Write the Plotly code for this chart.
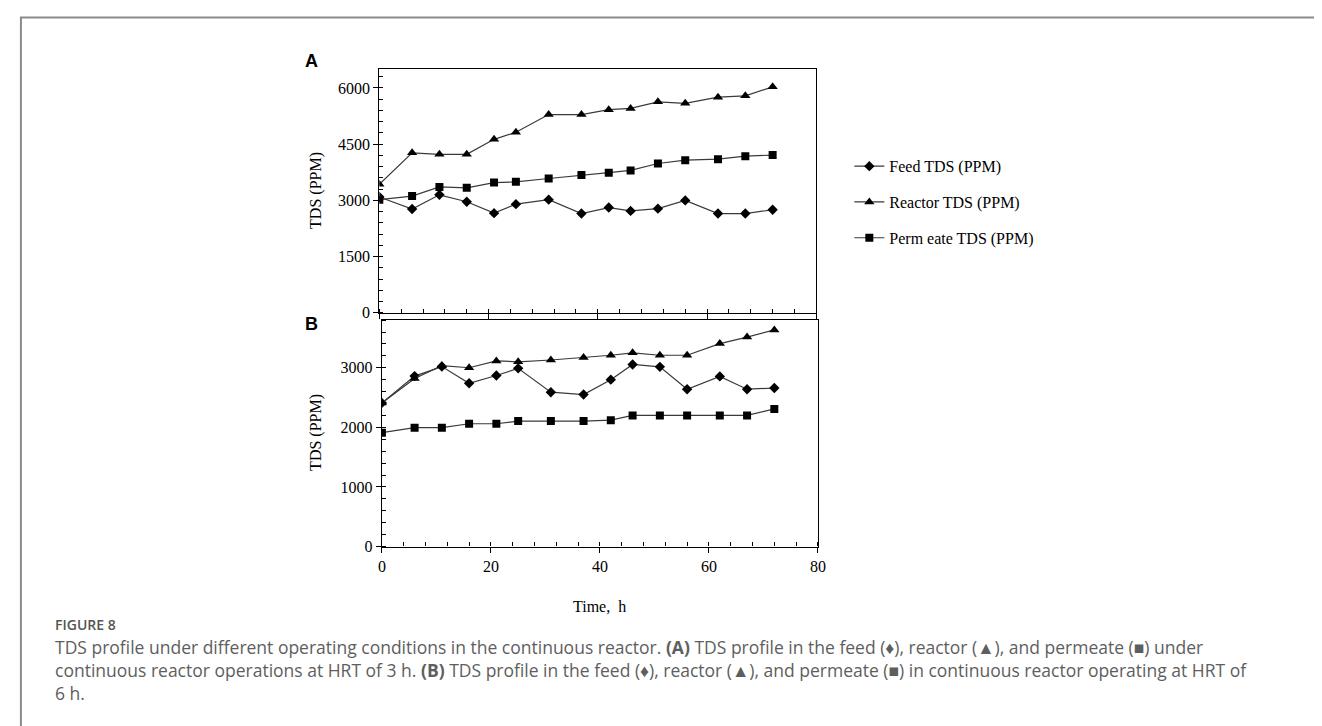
import plotly.graph_objects as go

W, H = 1322, 726

times = [0, 6, 11, 16, 21, 25, 31, 37, 42, 46, 51, 56, 62, 67, 72]

a_feed = [3090, 2770, 3150, 2965, 2660, 2900, 3020, 2650, 2810, 2720, 2780, 3000, 2650, 2650, 2750]
a_reactor = [3430, 4270, 4230, 4230, 4630, 4820, 5290, 5290, 5420, 5455, 5630, 5590, 5755, 5790, 6030]
a_permeate = [3020, 3115, 3360, 3335, 3475, 3495, 3585, 3680, 3740, 3800, 3985, 4075, 4100, 4180, 4210]

b_feed = [2410, 2860, 3020, 2740, 2870, 2990, 2590, 2550, 2800, 3055, 3015, 2640, 2855, 2640, 2660]
b_reactor = [2410, 2820, 3035, 3000, 3115, 3100, 3130, 3170, 3210, 3250, 3210, 3210, 3405, 3515, 3635]
b_permeate = [1910, 1995, 1995, 2060, 2060, 2105, 2105, 2105, 2120, 2200, 2200, 2200, 2200, 2200, 2310]

series_names = ["Feed TDS (PPM)", "Reactor TDS (PPM)", "Perm eate TDS (PPM)"]
symbols = ["diamond", "triangle-up", "square"]
sizes = [8, 9, 8]

SERIF = "Liberation Serif"


def px(x):
    return x / W


def py(y):
    return 1 - y / H


fig = go.Figure()

for i, (name, ys) in enumerate(zip(series_names, [a_feed, a_reactor, a_permeate])):
    fig.add_trace(go.Scatter(
        x=times, y=ys, name=name, mode="lines+markers",
        line=dict(color="#3a3a3a", width=1.2),
        marker=dict(symbol=symbols[i], size=sizes[i], color="black"),
        xaxis="x", yaxis="y", legendgroup=f"g{i}", showlegend=True,
    ))
for i, (name, ys) in enumerate(zip(series_names, [b_feed, b_reactor, b_permeate])):
    fig.add_trace(go.Scatter(
        x=times, y=ys, name=name, mode="lines+markers",
        line=dict(color="#3a3a3a", width=1.2),
        marker=dict(symbol=symbols[i], size=sizes[i], color="black"),
        xaxis="x2", yaxis="y2", legendgroup=f"g{i}", showlegend=False,
    ))

tickfont = dict(family=SERIF, size=16, color="black")
common_axis = dict(showline=True, linecolor="black", linewidth=1.3, mirror=True,
                   showgrid=False, zeroline=False, ticks="outside", ticklen=5,
                   tickcolor="black", tickwidth=1.2, tickfont=tickfont)

fig.update_layout(
    width=W, height=H,
    margin=dict(l=0, r=0, t=0, b=0),
    paper_bgcolor="white", plot_bgcolor="white",
    xaxis=dict(domain=[px(370.7), px(811.7)], anchor="y", range=[0, 80], dtick=20, tick0=0,
               showticklabels=False,
               minor=dict(dtick=4, ticks="inside", ticklen=4, tickcolor="black"),
               **common_axis),
    yaxis=dict(domain=[py(308.7), py(62)], anchor="x", range=[0, 6500], dtick=1500, tick0=0,
               minor=dict(dtick=300, ticks="inside", ticklen=4, tickcolor="black"),
               **common_axis),
    xaxis2=dict(domain=[px(373.3), px(813.3)], anchor="y2", range=[0, 80], dtick=20, tick0=0,
                minor=dict(dtick=4, ticks="inside", ticklen=4, tickcolor="black"),
                **common_axis),
    yaxis2=dict(domain=[py(545.3), py(316)], anchor="x2", range=[0, 3800], dtick=1000, tick0=0,
                minor=dict(dtick=200, ticks="inside", ticklen=4, tickcolor="black"),
                **common_axis),
    legend=dict(x=px(845), xanchor="left", y=py(143), yanchor="top",
                font=dict(family=SERIF, size=16, color="black"),
                bgcolor="rgba(0,0,0,0)", tracegroupgap=12, itemwidth=30),
    showlegend=True,
)

annotations = []
# panel labels
annotations.append(dict(text="<b>A</b>", x=px(302), y=py(54), xref="paper", yref="paper",
                        showarrow=False, xanchor="center", yanchor="middle",
                        font=dict(family="Liberation Sans", size=18, color="black")))
annotations.append(dict(text="<b>B</b>", x=px(302), y=py(320), xref="paper", yref="paper",
                        showarrow=False, xanchor="center", yanchor="middle",
                        font=dict(family="Liberation Sans", size=18, color="black")))
# axis titles
for yc in [185, 430]:
    annotations.append(dict(text="TDS (PPM)", x=px(306), y=py(yc), xref="paper", yref="paper",
                            showarrow=False, xanchor="center", yanchor="middle", textangle=-90,
                            font=dict(family=SERIF, size=16, color="black")))
annotations.append(dict(text="Time,  h", x=px(593), y=py(606), xref="paper", yref="paper",
                        showarrow=False, xanchor="center", yanchor="middle",
                        font=dict(family=SERIF, size=16, color="black")))
# caption
annotations.append(dict(text="FIGURE 8", x=px(41), y=py(624), xref="paper", yref="paper",
                        showarrow=False, xanchor="left", yanchor="middle",
                        font=dict(family="Open Sans", size=14, color="#555555", weight=600)))
cap_lines = [
    "TDS profile under different operating conditions in the continuous reactor. <b>(A)</b> TDS profile in the feed (♦), reactor (▲), and permeate (■) under",
    "continuous reactor operations at HRT of 3 h. <b>(B)</b> TDS profile in the feed (♦), reactor (▲), and permeate (■) in continuous reactor operating at HRT of",
    "6 h.",
]
annotations.append(dict(text="<br>".join(cap_lines), x=px(41), y=py(633), xref="paper", yref="paper",
                        showarrow=False, xanchor="left", yanchor="top", align="left",
                        font=dict(family="Open Sans", size=17.5, color="#5e5e5e")))
fig.update_layout(annotations=annotations)

# outer frame
fig.add_shape(type="rect", xref="paper", yref="paper", x0=px(9), x1=px(1321), y0=py(760), y1=py(9.5),
              line=dict(color="#8a8a8a", width=2), fillcolor="rgba(0,0,0,0)", layer="below")

fig.write_html("out.html")
